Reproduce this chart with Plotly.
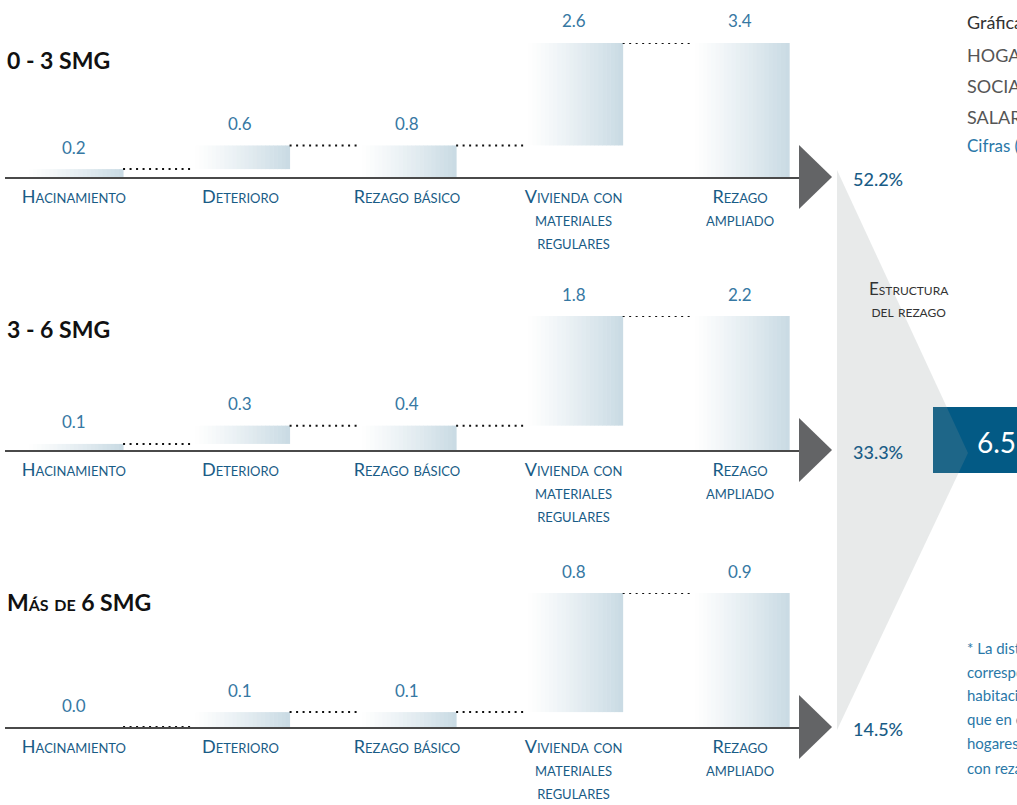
import numpy as np
import plotly.graph_objects as go

# ---- data -------------------------------------------------------------
categories = [
    "Hacinamiento",
    "Deterioro",
    "Rezago básico",
    "Vivienda con<br>materiales<br>regulares",
    "Rezago<br>ampliado",
]
measures = ["relative", "relative", "total", "relative", "total"]

groups = ["0 - 3 SMG", "3 - 6 SMG", "Más de 6 SMG"]
steps_0_3 = [0.2, 0.6, None, 2.6, None]
steps_3_6 = [0.1, 0.3, None, 1.8, None]
steps_6_mas = [0.0, 0.1, None, 0.8, None]
structure_pct = [52.2, 33.3, 14.5]

header_lines = ["Gráfica", "HOGARES", "SOCIAL", "SALARIOS", "Cifras (millones)"]
note_lines = ["* La distribución", "corresponde a la", "habitacional", "que en el", "hogares", "con rezago"]

# ---- layout constants ---------------------------------------------------
W, H = 1017, 805
FONT = "Lato"
BLUE_DARK = "#195c86"
BLUE_VAL = "#3678a3"
axis_px = [177, 450, 727]      # baseline of each panel
title_px = [60, 329, 602]      # vertical centre of each panel title
bar_px = 134                   # pixel height of each panel's total
bar_w = 0.59
n_slices = 24
c_left = np.array([255, 255, 255])
c_right = np.array([202, 219, 228])


def px(x, y):
    return x / W, 1 - y / H


fig = go.Figure()
series = [steps_0_3, steps_3_6, steps_6_mas]
shapes, annotations = [], []
grand_total = 0.0

for k, (name, steps) in enumerate(zip(groups, series)):
    sfx = "" if k == 0 else str(k + 1)
    xa, ya = "x" + sfx, "y" + sfx

    # waterfall geometry
    base, height, level = [], [], []
    run = 0.0
    for v, m in zip(steps, measures):
        if m == "relative":
            base.append(run)
            height.append(v)
            run += v
        else:
            base.append(0.0)
            height.append(run)
        level.append(run)
    total = run
    grand_total += total
    xs = list(range(len(categories)))

    # gradient bars: thin vertical slices, white on the left to blue-grey on the right
    for j in range(n_slices):
        t = (j / (n_slices - 1)) ** 1.15
        col = (c_left + (c_right - c_left) * t).round().astype(int)
        fig.add_trace(go.Bar(
            x=xs, y=height, base=base,
            width=bar_w / n_slices + 0.003,
            offset=-bar_w / 2 + j * bar_w / n_slices,
            marker=dict(color=f"rgb({col[0]},{col[1]},{col[2]})", line=dict(width=0)),
            xaxis=xa, yaxis=ya, hoverinfo="skip", showlegend=False,
        ))

    # dotted connectors between consecutive bars
    cx, cy = [], []
    for i in range(len(categories) - 1):
        cx += [i + bar_w / 2, i + 1 - bar_w / 2, None]
        cy += [level[i], level[i], None]
    fig.add_trace(go.Scatter(
        x=cx, y=cy, mode="lines",
        line=dict(color="#111111", width=2, dash="2px,4.5px"),
        xaxis=xa, yaxis=ya, hoverinfo="skip", showlegend=False,
    ))

    # value labels
    for i in xs:
        annotations.append(dict(
            x=i, y=base[i] + height[i], xref=xa, yref=ya,
            text=f"{height[i]:.1f}", showarrow=False, yshift=22,
            font=dict(family=FONT, size=17, color=BLUE_VAL),
        ))

    A = axis_px[k]
    fig.update_layout(**{
        "xaxis" + sfx: dict(
            domain=[5 / W, 800 / W], range=[-0.414, 4.36], anchor=ya,
            showline=True, linecolor="#4a4a4a", linewidth=2,
            showgrid=False, zeroline=False, ticks="",
            tickvals=xs, ticktext=categories, ticklabelstandoff=2,
            tickfont=dict(family=FONT, size=18, color=BLUE_DARK, variant="small-caps"),
            fixedrange=True,
        ),
        "yaxis" + sfx: dict(
            domain=[(H - A) / H, (H - A + bar_px) / H], range=[0, total],
            anchor=xa, visible=False, fixedrange=True,
        ),
    })

    # panel title
    tx, ty = px(5, title_px[k])
    annotations.append(dict(
        x=tx, y=ty, xref="paper", yref="paper", xanchor="left", yanchor="middle",
        text=f"<b>{name}</b>", showarrow=False,
        font=dict(family=FONT, size=23, color="#111111", variant="small-caps", weight=900),
    ))

    # arrow head at the end of the baseline
    p1, p2, p3 = px(799, A - 32), px(832, A), px(799, A + 32)
    shapes.append(dict(
        type="path", xref="paper", yref="paper",
        path=f"M {p1[0]},{p1[1]} L {p2[0]},{p2[1]} L {p3[0]},{p3[1]} Z",
        fillcolor="#636466", line=dict(width=0), layer="above",
    ))

    # share of the total
    sx, sy = px(878, A + 2)
    annotations.append(dict(
        x=sx, y=sy, xref="paper", yref="paper", xanchor="center", yanchor="middle",
        text=f"{structure_pct[k]:.1f}%", showarrow=False,
        font=dict(family=FONT, size=18, color=BLUE_DARK, weight=500),
    ))

# total box and funnel
b0, b1 = px(933, 407), px(1030, 473)
shapes.append(dict(type="rect", xref="paper", yref="paper",
                   x0=b0[0], y0=b0[1], x1=b1[0], y1=b1[1],
                   fillcolor="#035a85", line=dict(width=0), layer="below"))
f1, f2, f3 = px(837, 170), px(968, 453), px(837, 730)
shapes.append(dict(type="path", xref="paper", yref="paper",
                   path=f"M {f1[0]},{f1[1]} L {f2[0]},{f2[1]} L {f3[0]},{f3[1]} Z",
                   fillcolor="rgba(140,148,150,0.2)", line=dict(width=0), layer="below"))

gx, gy = px(975, 442)
annotations.append(dict(x=gx, y=gy, xref="paper", yref="paper", xanchor="left", yanchor="middle",
                        text=f"{grand_total:.1f}", showarrow=False,
                        font=dict(family=FONT, size=28, color="white")))

ex, ey = px(909, 299)
annotations.append(dict(x=ex, y=ey, xref="paper", yref="paper", xanchor="center", yanchor="middle",
                        text="Estructura<br>del rezago", showarrow=False,
                        font=dict(family=FONT, size=17, color="#333333", variant="small-caps")))

# header (runs past the right edge)
header_y = [22, 55, 86, 117, 145]
header_col = ["#333333", "#555555", "#555555", "#555555", "#2a78a8"]
header_size = [18, 18, 18, 18, 17]
for line, yy, cc, ss in zip(header_lines, header_y, header_col, header_size):
    hx, hy = px(965, yy)
    annotations.append(dict(x=hx, y=hy, xref="paper", yref="paper", xanchor="left", yanchor="middle",
                            text=line, showarrow=False,
                            font=dict(family=FONT, size=ss, color=cc)))

# footnote
note_y = [648, 672, 695, 719, 743, 768]
for line, yy in zip(note_lines, note_y):
    nx, ny = px(965, yy)
    annotations.append(dict(x=nx, y=ny, xref="paper", yref="paper", xanchor="left", yanchor="middle",
                            text=line, showarrow=False,
                            font=dict(family=FONT, size=15, color="#2a78a8")))

fig.update_layout(
    width=W, height=H, autosize=False,
    margin=dict(l=0, r=0, t=0, b=0),
    paper_bgcolor="white", plot_bgcolor="rgba(0,0,0,0)",
    barmode="overlay", showlegend=False,
    shapes=shapes, annotations=annotations,
    font=dict(family=FONT),
)

fig.write_html("out.html")
